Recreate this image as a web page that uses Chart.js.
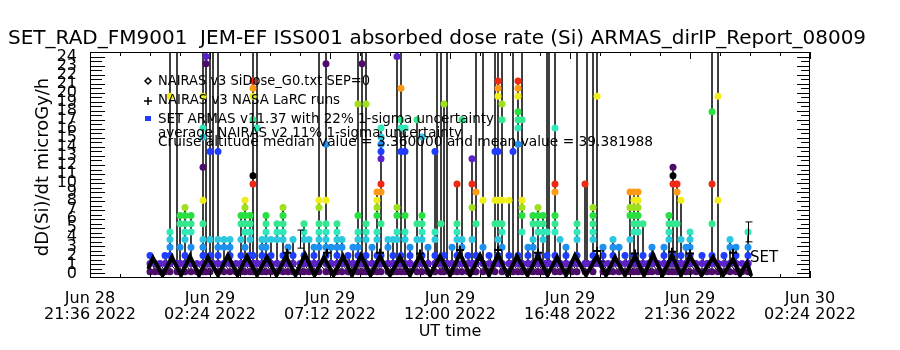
<!DOCTYPE html>
<html>
<head>
<meta charset="utf-8">
<script src="https://cdn.jsdelivr.net/npm/chart.js@4.4.0/dist/chart.umd.min.js"></script>
<style>
  html, body { margin: 0; padding: 0; background: #fff; }
</style>
</head>
<body>
<canvas id="doseChart" width="900" height="350"></canvas>
<script>
// hours since Jun 29 2022 00:00 UT
const xTickHours = [-2.4, 2.4, 7.2, 12.0, 16.8, 21.6, 26.4];
const xTickLabels = [
  ["Jun 28", "21:36 2022"], ["Jun 29", "02:24 2022"], ["Jun 29", "07:12 2022"],
  ["Jun 29", "12:00 2022"], ["Jun 29", "16:48 2022"], ["Jun 29", "21:36 2022"],
  ["Jun 30", "02:24 2022"]
];
const yTickValues = [0,1,2,3,4,5,6,7,8,9,10,11,12,13,14,15,16,17,18,19,20,21,22,23,24];

// SET ARMAS: each column is a short burst of samples at one time
const colHours = [
  0.00, 0.20, 0.40, 0.60, 0.80, 1.08, 1.20, 1.40, 1.64, 1.88,
  2.12, 2.24, 2.40, 2.52, 2.72, 2.96, 3.20, 3.44, 3.64, 3.80,
  4.00, 4.12, 4.28, 4.48, 4.64, 4.84, 5.08, 5.32, 5.52, 5.72,
  6.00, 6.16, 6.36, 6.56, 6.76, 7.04, 7.24, 7.48, 7.68, 7.92,
  8.12, 8.32, 8.48, 8.64, 8.88, 9.08, 9.24, 9.52, 9.72, 9.88,
  10.04, 10.20, 10.40, 10.68, 10.88, 11.12, 11.40, 11.48, 11.64, 11.76,
  11.88, 12.08, 12.28, 12.48, 12.72, 12.88, 13.04, 13.32, 13.56, 13.80,
  13.92, 14.08, 14.36, 14.52, 14.72, 14.88, 15.12, 15.32, 15.52, 15.72,
  15.88, 15.96, 16.20, 16.40, 16.64, 16.88, 17.08, 17.40, 17.48, 17.72,
  17.88, 18.12, 18.32, 18.52, 18.76, 19.00, 19.20, 19.36, 19.52, 19.72,
  19.92, 20.08, 20.32, 20.56, 20.76, 20.92, 21.08, 21.24, 21.44, 21.60,
  21.84, 22.08, 22.28, 22.48, 22.72, 22.96, 23.20, 23.44, 23.68, 23.92
];
const colDoses = [
  [0.2, 1.1, 2.0], [0.2, 1.1], [0.2, 1.1], [0.2, 1.1, 2.0],
  [0.2, 1.1, 2.0, 2.9, 3.75, 4.6, 19.6, 100, 1.1], [0.2, 1.1, 100, 1.1],
  [0.2, 1.1, 2.9, 5.5, 6.4, 1.1], [0.2, 1.1, 2.0, 3.75, 4.6, 5.5, 6.4, 7.3, 1.1],
  [0.2, 1.1, 2.9, 4.6, 5.5, 6.4, 1.1], [0.2, 1.1],
  [0.2, 1.1, 2.0, 2.9, 3.75, 5.5, 8.1, 11.75, 15.1, 16.1, 19.6, 100, 1.1],
  [0.2, 1.1, 23.2, 24.0, 100, 1.1], [0.2, 1.1, 2.0, 3.75, 13.5, 100, 1.1],
  [1.1, 100, 1.1], [0.2, 1.1, 2.0, 2.9, 3.75, 13.5, 100, 1.1],
  [0.2, 1.1, 2.9, 3.75, 1.1], [0.2, 1.1, 2.0, 2.9, 3.75, 1.1], [0.2, 1.1],
  [0.2, 1.1, 2.0, 3.75, 5.5, 6.4, 1.1], [0.2, 1.1, 2.9, 4.6, 5.5, 6.4, 7.3, 8.1, 1.1],
  [0.2, 1.1, 2.0, 3.75, 4.6, 5.5, 6.4, 1.1],
  [0.2, 1.1, 2.0, 9.9, 10.8, 17.0, 19.6, 20.5, 21.3, 100, 1.1],
  [0.2, 1.1, 16.1, 100, 1.1], [0.2, 1.1, 2.0, 2.9, 3.75, 1.1],
  [0.2, 1.1, 2.9, 3.75, 4.6, 5.5, 6.4, 1.1], [0.2, 1.1, 2.0, 3.75, 1.1],
  [0.2, 1.1, 3.75, 4.6, 5.5, 1.1], [0.2, 1.1, 2.0, 3.75, 4.6, 5.5, 6.4, 7.3, 1.1],
  [0.2, 1.1, 2.9, 1.1], [0.2, 1.1, 2.0, 3.75, 1.1],
  [0.2, 1.1], [0.2, 1.1, 2.0, 3.75, 4.6, 5.5, 1.1], [0.2, 1.1, 3.75, 1.1],
  [0.2, 1.1, 2.0, 2.9, 1.1], [0.2, 1.1, 2.9, 3.75, 4.6, 5.5, 7.3, 8.1, 100, 1.1],
  [0.2, 1.1, 2.0, 2.9, 3.75, 4.6, 5.5, 8.1, 14.3, 23.2, 100, 1.1],
  [0.2, 1.1, 2.9, 1.1], [0.2, 1.1, 2.0, 2.9, 3.75, 4.6, 5.5, 1.1],
  [0.2, 1.1, 2.9, 3.75, 1.1], [0.2, 1.1, 2.0],
  [0.2, 1.1, 2.9, 1.1], [0.2, 1.1, 2.0, 2.9, 3.75, 4.6, 6.4, 18.75, 100, 1.1],
  [0.2, 1.1, 23.2, 100, 1.1], [0.2, 1.1, 2.0, 3.75, 4.6, 5.5, 18.75, 100, 1.1],
  [0.2, 1.1, 2.9, 1.1], [0.2, 1.1, 2.0, 3.75, 4.6, 6.4, 7.3, 8.1, 9.0, 1.1],
  [0.2, 1.1, 2.0, 5.5, 9.0, 9.9, 12.7, 13.5, 14.3, 15.1, 16.1, 1.1],
  [0.2, 1.1, 2.9, 3.75, 1.1], [0.2, 1.1, 2.0, 3.75, 1.1],
  [0.2, 1.1, 3.75, 4.6, 6.4, 7.3, 24.0, 100, 1.1],
  [0.2, 1.1, 2.0, 13.5, 16.1, 17.0, 20.5, 100, 1.1],
  [0.2, 1.1, 3.75, 4.6, 6.4, 13.5, 16.1, 1.1], [0.2, 1.1, 2.0, 2.9, 1.1],
  [0.2, 1.1, 3.75, 5.5, 17.0, 1.1], [0.2, 1.1, 2.0, 3.75, 4.6, 5.5, 6.4, 15.1, 1.1],
  [0.2, 1.1, 2.9, 1.1], [0.2, 1.1, 2.0, 3.75, 4.6, 13.5, 1.1], [1.1, 100, 1.1],
  [0.2, 1.1, 5.5, 100, 1.1], [0.2, 1.1, 2.0, 18.75, 1.1],
  [1.1, 100, 1.1], [0.2, 1.1, 2.9, 1.1], [0.2, 1.1, 2.0, 3.75, 4.6, 5.5, 9.9, 1.1],
  [0.2, 1.1, 2.9, 3.75, 17.0, 1.1], [0.2, 1.1, 2.0],
  [0.2, 1.1, 3.75, 7.3, 9.9, 12.7, 1.1], [0.2, 1.1, 2.0, 5.5, 9.0, 100, 1.1],
  [0.2, 1.1, 2.9, 8.1, 100, 1.1], [0.2, 1.1, 2.0],
  [0.2, 1.1, 5.5, 8.1, 13.5, 100, 1.1],
  [1.1, 2.0, 3.75, 5.5, 8.1, 13.5, 19.6, 20.5, 21.3, 100, 1.1],
  [0.2, 1.1, 2.9, 4.6, 5.5, 8.1, 17.0, 18.75, 100, 1.1],
  [0.2, 1.1, 2.0, 8.1, 1.1], [0.2, 1.1, 13.5, 100, 1.1],
  [0.2, 1.1, 2.0, 14.3, 16.1, 17.0, 17.9, 19.6, 20.5, 21.3, 1.1],
  [0.2, 1.1, 4.6, 6.4, 7.3, 8.1, 17.0, 100, 1.1],
  [0.2, 1.1, 2.0, 2.9, 1.1], [0.2, 1.1, 2.9, 3.75, 5.5, 6.4, 1.1],
  [0.2, 1.1, 2.0, 4.6, 5.5, 6.4, 7.3, 1.1], [0.2, 1.1, 3.75, 4.6, 5.5, 6.4, 1.1],
  [0.2, 1.1, 2.0, 4.6, 100, 1.1], [1.1, 100, 1.1],
  [0.2, 1.1, 2.0, 4.6, 5.5, 6.4, 9.0, 9.9, 16.1, 100, 1.1],
  [0.2, 1.1, 3.75, 1.1], [0.2, 1.1, 2.0, 2.9, 1.1], [0.2, 1.1],
  [0.2, 1.1, 2.0, 3.75, 4.6, 5.5, 100, 1.1], [0.2, 1.1, 9.9, 1.1], [1.1, 100, 1.1],
  [0.2, 1.1, 2.0, 3.75, 4.6, 5.5, 6.4, 7.3, 100, 1.1], [1.1, 19.6, 100, 1.1],
  [0.2, 1.1, 2.0, 2.9, 1.1], [0.2, 1.1], [0.2, 1.1, 2.0, 2.9, 3.75, 1.1],
  [0.2, 1.1, 2.9, 1.1], [0.2, 1.1, 2.0],
  [0.2, 1.1, 3.75, 6.4, 7.3, 9.0, 1.1],
  [0.2, 1.1, 2.0, 4.6, 5.5, 6.4, 7.3, 8.1, 9.0, 1.1],
  [0.2, 1.1, 4.6, 5.5, 6.4, 7.3, 8.1, 9.0, 1.1],
  [0.2, 1.1, 2.0, 5.5, 1.1], [0.2, 1.1], [0.2, 1.1, 2.0, 2.9, 1.1],
  [0.2, 1.1], [0.2, 1.1, 2.0, 2.9, 1.1], [0.2, 1.1, 3.75, 4.6, 5.5, 6.4, 1.1],
  [0.2, 1.1, 2.0, 5.5, 9.9, 10.8, 11.75, 1.1], [0.2, 1.1, 5.5, 9.0, 9.9, 1.1],
  [0.2, 1.1, 2.0, 3.75, 8.1, 1.1], [0.2, 1.1, 2.9, 1.1], [0.2, 1.1, 2.0, 2.9, 3.75, 4.6, 1.1],
  [0.2, 1.1], [0.2, 1.1, 2.0], [0.2, 1.1],
  [0.2, 1.1, 2.0, 5.5, 9.9, 17.9, 100, 1.1], [0.2, 1.1, 8.1, 19.6, 100, 1.1],
  [0.2, 1.1, 2.0], [0.2, 1.1, 2.9, 3.75, 1.1], [0.2, 1.1, 2.0, 2.9, 1.1],
  [0.2, 1.1], [0.2, 1.1, 2.0, 2.9, 4.6, 1.1]
];

// NAIRAS v3 SiDose model (diamonds)
const nairasHours = [
  -0.06, 0.12, 0.50, 0.88, 1.24, 1.60, 1.96, 2.32, 2.72, 3.12, 3.50, 3.88,
  4.28, 4.68, 5.06, 5.44, 5.82, 6.20, 6.58, 6.96, 7.34, 7.72, 8.08, 8.44,
  8.82, 9.20, 9.60, 10.00, 10.40, 10.80, 11.20, 11.60, 12.00, 12.40, 12.80, 13.20,
  13.56, 13.92, 14.30, 14.68, 15.10, 15.52, 15.90, 16.28, 16.64, 17.00, 17.44, 17.88,
  18.24, 18.60, 19.00, 19.40, 19.76, 20.12, 20.50, 20.88, 21.24, 21.60, 22.06, 22.52,
  22.92, 23.32, 23.60, 23.88, 24.04
];
const nairasDose = [
  0.6, 1.7, -0.2, 1.8, -0.2, 1.9, -0.2, 1.8, -0.2, 2.0, -0.2, 1.9,
  -0.2, 1.8, -0.2, 1.9, -0.2, 2.1, -0.2, 1.8, -0.2, 1.9, -0.2, 2.0,
  -0.2, 1.9, -0.2, 1.8, -0.2, 2.0, -0.2, 1.9, -0.2, 2.2, -0.2, 2.0,
  -0.2, 2.1, -0.2, 1.9, -0.2, 2.0, -0.2, 1.8, -0.2, 2.0, -0.2, 1.9,
  -0.2, 1.8, -0.2, 1.9, -0.2, 2.1, -0.2, 2.0, -0.2, 1.9, -0.2, 1.8,
  -0.2, 1.6, -0.2, 1.2, -0.2
];

// NAIRAS v3 NASA LaRC runs (plus)
const larcHours = [5.48, 7.08, 9.20, 10.80, 12.40, 13.92, 15.52, 17.88, 19.40, 20.88, 21.60, 23.32];
const larcDose = [2.3, 2.3, 2.3, 2.2, 2.6, 2.6, 2.3, 2.5, 2.2, 2.4, 2.2, 2.3];

// 1-sigma error bars
const errHours = [6.0, 18.0, 23.92];
const errLow = [2.8, 1.3, 3.5];
const errHigh = [4.8, 2.5, 5.7];

const titleText = "SET_RAD_FM9001  JEM-EF ISS001 absorbed dose rate (Si) ARMAS_dirIP_Report_08009";
const legendLines = [
  "NAIRAS v3 SiDose_G0.txt SEP=0",
  "NAIRAS v3 NASA LaRC runs",
  "SET ARMAS v11.37 with 22% 1-sigma uncertainty",
  "average NAIRAS v2 11% 1-sigma uncertainty",
  "Cruise altitude median value = 3.360000 and mean value = 39.381988"
];

// colour table repeats every 13 dose steps
const levelValues = [0.2, 1.1, 2.0, 2.9, 3.75, 4.6, 5.5, 6.4, 7.3, 8.1, 9.0, 9.9, 10.8,
  11.75, 12.7, 13.5, 14.3, 15.1, 16.1, 17.0, 17.9, 18.75, 19.6, 20.5, 21.3, 22.2, 23.2, 24.0];
const levelColors = ["#4b0c6b", "#5a22c8", "#1f3cff", "#1e90f0", "#2cc8e0", "#30e8b8",
  "#34e890", "#28e040", "#9ee01e", "#f0ee1a", "#ff9a14", "#f02814", "#000000"];

function colorFor(v) {
  let best = 0;
  levelValues.forEach((lv, i) => {
    if (Math.abs(lv - v) < Math.abs(levelValues[best] - v)) best = i;
  });
  return levelColors[best % levelColors.length];
}

const armasPoints = [];
colHours.forEach((h, i) => {
  colDoses[i].forEach((d) => armasPoints.push({ x: h, y: d }));
});

const decor = {
  id: "decor",
  afterDatasetsDraw(chart) {
    const { ctx, chartArea: a, scales: { x, y } } = chart;
    ctx.save();
    ctx.strokeStyle = "#000";
    ctx.fillStyle = "#000";
    ctx.lineWidth = 1;

    // error bars
    ctx.beginPath();
    errHours.forEach((h, i) => {
      const px = Math.round(x.getPixelForValue(h)) + 0.5;
      const y1 = y.getPixelForValue(errLow[i]);
      const y2 = y.getPixelForValue(errHigh[i]);
      ctx.moveTo(px, y1); ctx.lineTo(px, y2);
      ctx.moveTo(px - 3, y1); ctx.lineTo(px + 4, y1);
      ctx.moveTo(px - 3, y2); ctx.lineTo(px + 4, y2);
    });
    ctx.stroke();
    ctx.font = '15px "DejaVu Sans"';
    ctx.fillText("SET", x.getPixelForValue(errHours[2]) + 2, y.getPixelForValue(1.3));

    // frame and ticks
    ctx.strokeRect(a.left + 0.5, a.top + 0.5, a.right - a.left - 1, a.bottom - a.top - 1);
    ctx.beginPath();
    for (let k = 0; k <= 48; k++) {
      const v = k / 2;
      const py = Math.round(y.getPixelForValue(v)) + 0.5;
      const big = k % 2 === 0;
      ctx.moveTo(a.left, py); ctx.lineTo(a.left + (big ? 15 : 12), py);
      ctx.moveTo(a.right, py); ctx.lineTo(a.right - (big ? 13 : 9), py);
    }
    for (let k = 0; k <= 24; k++) {
      const px = Math.round(x.getPixelForValue(-2.4 + k * 1.2)) + 0.5;
      const len = k % 4 === 0 ? 7 : 4;
      ctx.moveTo(px, a.top); ctx.lineTo(px, a.top + len);
      ctx.moveTo(px, a.bottom); ctx.lineTo(px, a.bottom - len);
    }
    ctx.stroke();

    // title
    ctx.font = '20px "DejaVu Sans"';
    ctx.textBaseline = "alphabetic";
    ctx.fillText(titleText, 8, 44, 882);

    // y title
    ctx.save();
    ctx.translate(48, 167);
    ctx.rotate(-Math.PI / 2);
    ctx.textAlign = "center";
    ctx.font = '18px "DejaVu Sans"';
    ctx.fillText("dD(Si)/dt microGy/h", 0, 0);
    ctx.restore();

    // legend
    ctx.font = '14px "DejaVu Sans"';
    const base = [85, 104, 123, 137, 146];
    const widths = [212, 182, 336, 304, 495];
    legendLines.forEach((t, i) => ctx.fillText(t, 158, base[i], widths[i]));
    ctx.beginPath();
    ctx.moveTo(148, 78); ctx.lineTo(151, 81); ctx.lineTo(148, 84); ctx.lineTo(145, 81); ctx.closePath();
    ctx.moveTo(148, 97); ctx.lineTo(148, 105);
    ctx.moveTo(144, 101); ctx.lineTo(152, 101);
    ctx.lineWidth = 1.5;
    ctx.stroke();
    ctx.fillStyle = "#1f3cff";
    ctx.fillRect(145, 116, 6, 5);
    ctx.restore();
  }
};

new Chart(document.getElementById("doseChart"), {
  type: "scatter",
  data: {
    datasets: [
      {
        label: "NAIRAS v3 SiDose",
        data: nairasHours.map((h, i) => ({ x: h, y: nairasDose[i] })),
        showLine: true,
        borderColor: "#000",
        borderWidth: 4,
        pointRadius: 2,
        pointStyle: "rectRot",
        pointBackgroundColor: "#000",
        pointBorderWidth: 0,
        order: 0
      },
      {
        label: "NAIRAS v3 LaRC",
        data: larcHours.map((h, i) => ({ x: h, y: larcDose[i] })),
        showLine: false,
        pointStyle: "cross",
        pointRadius: 4,
        borderColor: "#000",
        pointBorderWidth: 2,
        order: 1
      },
      {
        label: "SET ARMAS",
        data: armasPoints,
        showLine: true,
        borderColor: "#000",
        borderWidth: 1,
        pointRadius: 3.5,
        pointBorderWidth: 0,
        pointBackgroundColor: armasPoints.map((p) => colorFor(p.y)),
        order: 2
      }
    ]
  },
  options: {
    responsive: false,
    animation: false,
    events: [],
    layout: { padding: { top: 52, right: 90, left: 0, bottom: 9 } },
    plugins: { legend: { display: false }, tooltip: { enabled: false } },
    scales: {
      x: {
        type: "linear",
        min: -2.4,
        max: 26.4,
        afterBuildTicks: (s) => { s.ticks = xTickHours.map((v) => ({ value: v })); },
        afterFit: (s) => { s.height = 63; },
        grid: { display: false },
        border: { display: false },
        ticks: {
          autoSkip: false,
          maxRotation: 0,
          padding: 4,
          color: "#000",
          font: { family: "DejaVu Sans", size: 16, lineHeight: 1.05 },
          callback: (v) => xTickLabels[xTickHours.indexOf(v)]
        },
        title: {
          display: true,
          text: "UT time",
          color: "#000",
          font: { family: "DejaVu Sans", size: 16 },
          padding: { top: 0, bottom: 0 }
        }
      },
      y: {
        min: -0.5,
        max: 24.5,
        afterBuildTicks: (s) => { s.ticks = yTickValues.map((v) => ({ value: v })); },
        afterFit: (s) => { s.width = 90; },
        grid: { display: false },
        border: { display: false },
        ticks: {
          autoSkip: false,
          padding: 5,
          color: "#000",
          font: { family: "DejaVu Sans", size: 16 }
        }
      }
    }
  },
  plugins: [decor]
});
</script>
</body>
</html>
